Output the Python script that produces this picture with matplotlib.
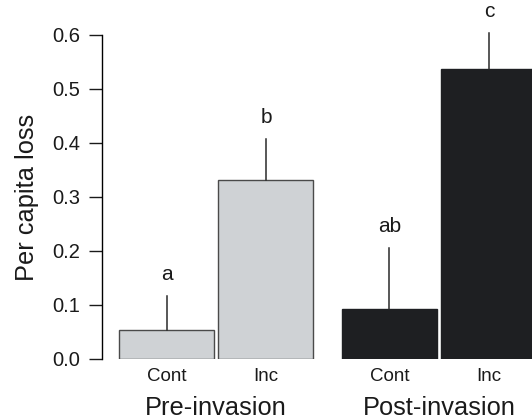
import matplotlib
matplotlib.use("Agg")
import matplotlib.pyplot as plt
import matplotlib.transforms as mtransforms

plt.rcParams['font.family'] = ['Liberation Sans', 'DejaVu Sans']

groups = ["Pre-invasion", "Post-invasion"]
treatments = ["Cont", "Inc"]
means = [[0.054, 0.331], [0.093, 0.537]]
errors = [[0.063, 0.076], [0.112, 0.066]]
letters = [["a", "b"], ["ab", "c"]]
group_colors = ["#cfd2d5", "#1e1f22"]
edge_colors = ["#4a4a4a", "#1e1f22"]

fig = plt.figure(figsize=(5.32, 4.2), dpi=100)
ax = fig.add_axes([102/532, 61/420, 430/532, 324/420])

bar_w = 1.0
pair_step = 1.047
group_step = 2.347
trans = mtransforms.blended_transform_factory(ax.transData, ax.transAxes)

for gi, g in enumerate(groups):
    for ti, t in enumerate(treatments):
        x = gi * group_step + ti * pair_step
        m = means[gi][ti]
        e = errors[gi][ti]
        ax.bar(x, m, width=bar_w, color=group_colors[gi], edgecolor=edge_colors[gi],
               linewidth=1.0, zorder=2)
        ax.plot([x, x], [m, m + e], color="#2a2a2a", lw=1.1, zorder=3, clip_on=False)
        ax.text(x, m + e + 0.022, letters[gi][ti], ha="center", va="bottom",
                fontsize=15, color="#1a1a1a", clip_on=False)
        ax.text(x, -0.055, t, ha="center", va="center", fontsize=13.5, transform=trans,
                color="#1a1a1a")
    gx = gi * group_step + pair_step / 2
    ax.text(gx, -0.152, g, ha="center", va="center", fontsize=18.3, transform=trans,
            color="#1a1a1a")

ax.set_xlim(-0.679, 3.847)
ax.set_ylim(0, 0.6)
yt = [0.0, 0.1, 0.2, 0.3, 0.4, 0.5, 0.6]
ax.set_yticks(yt)
ax.set_yticklabels([f"{v:.1f}" for v in yt])
ax.tick_params(axis="y", length=9.5, width=1.0, pad=6, labelsize=14.5, colors="#1a1a1a")
ax.set_xticks([])
for s in ["top", "right", "bottom"]:
    ax.spines[s].set_visible(False)
ax.spines["left"].set_linewidth(1.0)
ax.spines["left"].set_bounds(0, 0.6)
ax.set_ylabel("Per capita loss", fontsize=18.3, color="#1a1a1a")
ax.yaxis.set_label_coords((39 - 102) / 430, 0.5)

fig.savefig("out.png", dpi=100)
